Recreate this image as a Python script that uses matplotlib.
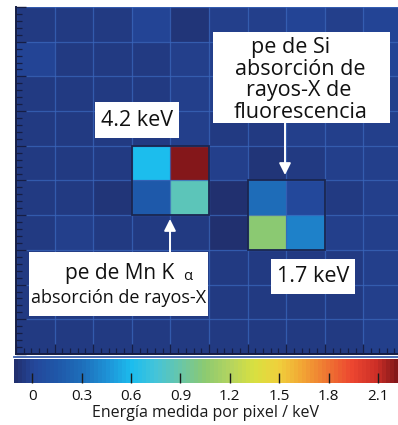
import numpy as np
import matplotlib
matplotlib.use("Agg")
import matplotlib.pyplot as plt
from matplotlib.colors import LinearSegmentedColormap, Normalize
from matplotlib.patches import Rectangle
from matplotlib.ticker import MultipleLocator

# ---------------- data ----------------
background = [
    [-0.05, -0.04, -0.04, -0.01, -0.08, -0.02, -0.02, -0.01, -0.03, -0.01],
    [-0.01, -0.04, -0.04, -0.06, -0.02, -0.03, -0.03, -0.02, -0.03, -0.01],
    [-0.04, -0.04, -0.05, -0.06, -0.02, -0.03, -0.02, -0.03, -0.02, -0.02],
    [-0.05, -0.04, -0.06, -0.04, -0.02, -0.06, -0.06, -0.03, -0.03, -0.02],
    [-0.05, -0.04, -0.06, -0.04, -0.04, -0.02, -0.07, -0.05, -0.03, -0.02],
    [-0.04, -0.04, -0.07, -0.04, -0.04, -0.11, -0.04, -0.04, -0.05, -0.02],
    [-0.05, -0.03, -0.04, -0.04, -0.04, -0.12, -0.04, -0.04, -0.03, -0.03],
    [-0.04, -0.04, -0.04, -0.04, -0.04, -0.04, -0.04, -0.05, -0.04, -0.03],
    [-0.04, -0.04, -0.04, -0.04, -0.04, -0.04, -0.04, -0.04, -0.04, -0.03],
    [-0.04, -0.04, -0.04, -0.04, -0.04, -0.04, -0.04, -0.04, -0.04, -0.03],
]
mn_block = [[0.60, 2.22],
            [0.17, 0.85]]      # rows 4-5, cols 3-4
si_block = [[0.30, 0.03],
            [1.05, 0.38]]      # rows 5-6, cols 6-7
mn_origin = (4, 3)
si_origin = (5, 6)

cbar_ticks = [0, 0.3, 0.6, 0.9, 1.2, 1.5, 1.8, 2.1]
cbar_ticklabels = ["0", "0.3", "0.6", "0.9", "1.2", "1.5", "1.8", "2.1"]
vmin, vmax = -0.11, 2.22

label_mn_energy = "4.2 keV"
label_si_energy = "1.7 keV"
label_si_lines = ["pe de Si", "absorción de", "rayos-X de", "fluorescencia"]
label_mn_1 = "pe de Mn K"
label_mn_alpha = "α"
label_mn_2 = "absorción de rayos-X"
cbar_label = "Energía medida por pixel / keV"

# ---------------- colormap ----------------
cmap_nodes = [
    (-0.11, "#21306f"),
    (0.00, "#24479a"),
    (0.15, "#1f58a9"),
    (0.30, "#1e6fbb"),
    (0.45, "#1e92d6"),
    (0.60, "#1cbdee"),
    (0.75, "#45c4d8"),
    (0.90, "#69c6a8"),
    (1.05, "#8dca70"),
    (1.20, "#b3d460"),
    (1.35, "#d8e040"),
    (1.50, "#f0d03c"),
    (1.65, "#f2a434"),
    (1.80, "#ef7432"),
    (1.95, "#ec4630"),
    (2.10, "#cc2f27"),
    (2.22, "#84171a"),
]
cmap = LinearSegmentedColormap.from_list(
    "xray", [((v - vmin) / (vmax - vmin), c) for v, c in cmap_nodes], N=96)
norm = Normalize(vmin=vmin, vmax=vmax)

grid = np.array(background, dtype=float)
r0, c0 = mn_origin
grid[r0:r0 + 2, c0:c0 + 2] = mn_block
r0, c0 = si_origin
grid[r0:r0 + 2, c0:c0 + 2] = si_block

plt.rcParams["font.family"] = ["Open Sans", "DejaVu Sans"]

W, H = 398, 425
fig = plt.figure(figsize=(W / 100, H / 100), dpi=100)

def px_axes(x0, y0, x1, y1):
    return fig.add_axes([x0 / W, 1 - y1 / H, (x1 - x0) / W, (y1 - y0) / H])

# ---------------- main heatmap ----------------
ax = px_axes(16, 7, 402, 354)
ax.imshow(grid, cmap=cmap, norm=norm, interpolation="nearest", aspect="auto")
ax.set_xlim(-0.5, 9.5)
ax.set_ylim(9.5, -0.5)
ax.xaxis.set_major_locator(MultipleLocator(1, offset=0.5))
ax.yaxis.set_major_locator(MultipleLocator(1, offset=0.5))
ax.xaxis.set_minor_locator(MultipleLocator(0.2, offset=0.5))
ax.yaxis.set_minor_locator(MultipleLocator(0.2, offset=0.5))
ax.grid(which="major", color="#3a66bb", lw=0.9, alpha=0.75)
ax.tick_params(which="both", direction="in", colors="#161e45",
               labelleft=False, labelbottom=False, top=False, right=False)
ax.tick_params(which="major", length=7, width=1.0)
ax.tick_params(which="minor", length=4, width=0.9)
for s in ["top", "right"]:
    ax.spines[s].set_visible(False)
for s in ["left", "bottom"]:
    ax.spines[s].set_color("#161e45")
    ax.spines[s].set_linewidth(1.4)

for (r, c) in [mn_origin, si_origin]:
    ax.add_patch(Rectangle((c - 0.5, r - 0.5), 2, 2, fill=False,
                           ec="#1a2650", lw=1.3, zorder=3))

# ---------------- colorbar ----------------
cax = px_axes(14, 359, 398, 383)
sm = matplotlib.cm.ScalarMappable(norm=norm, cmap=cmap)
cb = fig.colorbar(sm, cax=cax, orientation="horizontal")
cb.outline.set_visible(False)
cb.set_ticks(cbar_ticks)
cb.set_ticklabels(cbar_ticklabels)
cax.tick_params(direction="in", length=7, width=1.0, color="#1a1a1a",
                labelsize=11, pad=4, labelcolor="#111111")
cb.set_label(cbar_label, fontsize=11.5, labelpad=1, color="#1a1a1a")

# ---------------- overlay annotations (pixel coords) ----------------
ov = fig.add_axes([0, 0, 1, 1], facecolor="none")
ov.set_xlim(0, W)
ov.set_ylim(H, 0)
ov.axis("off")

ov.plot([14, 398], [356.5, 356.5], color="#3a5fae", lw=1.3)

def box(x0, y0, x1, y1):
    ov.add_patch(Rectangle((x0, y0), x1 - x0, y1 - y0, fc="white", ec="none", zorder=5))

txt = dict(color="#111111", zorder=6, ha="center", va="center")

box(95, 102, 179, 138)
ov.text(137, 120.5, label_mn_energy, fontsize=15.5, **txt)

box(271, 259, 355, 294)
ov.text(313, 277, label_si_energy, fontsize=15.5, **txt)

box(213, 32, 390, 123)
si_centers_x = [291, 300, 299, 301]
si_centers_y = [47, 69, 90.5, 112]
for s, x, y in zip(label_si_lines, si_centers_x, si_centers_y):
    ov.text(x, y, s, fontsize=15.5, **txt)

box(29, 252, 208, 316)
ov.text(120, 273, label_mn_1, fontsize=15, **txt)
ov.text(188, 277, label_mn_alpha, fontsize=10.5, **txt)
ov.text(118.5, 298, label_mn_2, fontsize=13, **txt)

arrow_kw = dict(arrowstyle="-|>,head_length=0.7,head_width=0.35", color="white",
                lw=1.4, shrinkA=0, shrinkB=0)
ov.annotate("", xy=(285, 175), xytext=(285, 123), arrowprops=arrow_kw, zorder=6)
ov.annotate("", xy=(170, 219), xytext=(170, 252), arrowprops=arrow_kw, zorder=6)

fig.savefig("out.png", dpi=100)
